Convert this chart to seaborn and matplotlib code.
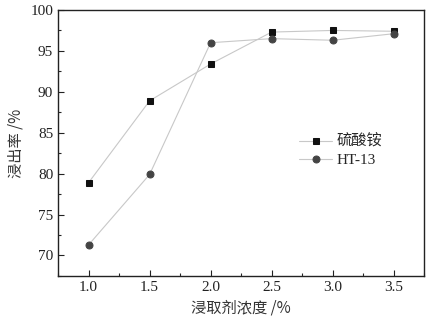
import matplotlib
matplotlib.use("Agg")
import matplotlib.pyplot as plt
import pandas as pd
import seaborn as sns
from matplotlib.ticker import MultipleLocator

# data
conc = [1.0, 1.5, 2.0, 2.5, 3.0, 3.5]
ammonium_sulfate = [78.9, 88.9, 93.4, 97.3, 97.5, 97.4]
ht13 = [71.3, 79.9, 96.0, 96.5, 96.3, 97.1]
labels = ["硫酸铵", "HT-13"]

df = pd.concat([
    pd.DataFrame({"x": conc, "y": ammonium_sulfate, "s": labels[0]}),
    pd.DataFrame({"x": conc, "y": ht13, "s": labels[1]}),
])

sns.set_style("ticks")
plt.rcParams["font.family"] = ["Liberation Serif", "Noto Sans CJK SC"]
plt.rcParams["xtick.direction"] = "in"
plt.rcParams["ytick.direction"] = "in"

fig = plt.figure(figsize=(4.4, 3.22), dpi=100)
ax = fig.add_axes([0.132, 0.143, 0.832, 0.826])

sns.lineplot(data=df, x="x", y="y", hue="s", style="s",
             markers={labels[0]: "s", labels[1]: "o"}, dashes=False,
             palette={labels[0]: "#c8c8c8", labels[1]: "#c8c8c8"},
             linewidth=0.8, markersize=5, ax=ax, legend=False)
# recolor markers
for line, fc in zip(ax.get_lines(), ["#111111", "#444444"]):
    line.set_markerfacecolor(fc)
    line.set_markeredgecolor(fc)

ax.set_xlim(0.75, 3.75)
ax.set_ylim(67.5, 100)
ax.xaxis.set_major_locator(MultipleLocator(0.5))
ax.xaxis.set_minor_locator(MultipleLocator(0.25))
ax.yaxis.set_major_locator(MultipleLocator(5))
ax.yaxis.set_minor_locator(MultipleLocator(2.5))
ax.tick_params(which="major", length=4, width=0.8, labelsize=11, colors="#222222")
ax.tick_params(which="minor", length=2, width=0.8)
for sp in ax.spines.values():
    sp.set_linewidth(1.0)
    sp.set_color("#222222")

ax.set_xlabel("浸取剂浓度 /%", fontsize=11, family=["Noto Sans CJK SC"], color="#333333")
ax.set_ylabel("浸出率 /%", fontsize=11, family=["Noto Sans CJK SC"], color="#333333")

handles = ax.get_lines()[:2]
leg = ax.legend(handles, labels, loc="center left", bbox_to_anchor=(0.62, 0.47),
                frameon=False, fontsize=11, handlelength=2.2, handletextpad=0.3,
                labelspacing=0.3, prop={"family": ["Liberation Serif", "Noto Sans CJK SC"], "size": 11})

fig.savefig("out.png", dpi=100)
